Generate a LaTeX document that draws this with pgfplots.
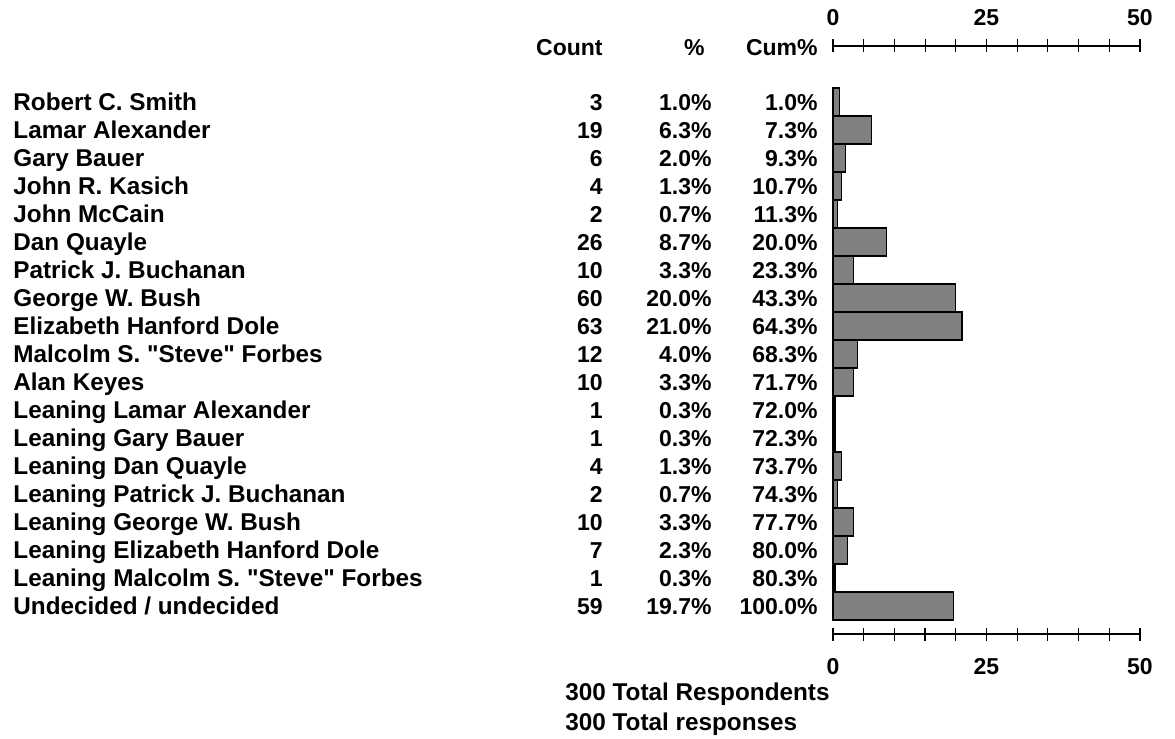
\documentclass[border=0pt]{standalone}
\usepackage{fontspec}
\setmainfont{Liberation Sans}[Ligatures=TeXOff]
\usepackage{pgfplots}
\pgfplotsset{compat=1.18}
\newcommand{\F}{\fontsize{11.5}{13}\selectfont\bfseries}
\newcommand{\N}{\fontsize{12.15}{14}\selectfont\bfseries}
\pgfplotstableread{
row pct
1  1.00
2  6.33
3  2.00
4  1.33
5  0.67
6  8.67
7  3.33
8  20.00
9  21.00
10 4.00
11 3.33
12 0.33
13 0.33
14 1.33
15 0.67
16 3.33
17 2.33
18 0.33
19 19.67
}\pcttable
\pgfplotsset{ruler/.style={
  at={(416.5pt,52.5pt)}, anchor=south west,
  scale only axis, width=153.5pt, height=294pt,
  xmin=0, xmax=50, ymin=-1, ymax=20, y dir=reverse,
  axis y line=none, ytick=\empty,
  xtick={0,25,50}, minor xtick={5,10,15,20,30,35,40,45},
  tick align=center, major tick length=6.5pt, minor tick length=6.5pt,
  every tick/.style={black, line width=0.6pt},
  clip=false,
  /pgf/number format/assume math mode=true,
  ticklabel style={font=\F, inner sep=0pt},
},
noarrow/.style={
  axis line style={-, line width=0.6pt, black},
  x axis line style={-},
  every outer x axis line/.style={-, line width=0.6pt, black},
  every inner x axis line/.style={-, line width=0.6pt, black},
}}
\newcommand{\row}[5]{%
  \node[anchor=base west, inner sep=0pt, yshift=-4.3pt, font=\N] at (axis cs:-133.55,#1) {#2};
  \node[anchor=base east, inner sep=0pt, yshift=-4.1pt] at (axis cs:-37.46,#1) {#3};
  \node[anchor=base east, inner sep=0pt, yshift=-4.1pt] at (axis cs:-19.71,#1) {#4\%};
  \node[anchor=base east, inner sep=0pt, yshift=-4.1pt] at (axis cs:-2.44,#1) {#5\%};
}
\begin{document}
\begin{tikzpicture}[font=\F]
\useasboundingbox (0,0) rectangle (587.5pt,369.5pt);
\begin{axis}[ruler, axis x line=top, noarrow,
  xticklabel style={anchor=center, yshift=11pt}]
\end{axis}
\begin{axis}[ruler, axis x line=bottom, noarrow,
  xticklabel style={anchor=center, yshift=-13pt}]
\addplot[xbar, bar width=1, fill=black!50, draw=black, line width=0.6pt] table[x=pct, y=row] {\pcttable};
\node[anchor=base east, inner sep=0pt, yshift=-4.1pt] at (axis cs:-37.46,-0.96) {Count};
\node[anchor=base east, inner sep=0pt, yshift=-4.1pt] at (axis cs:-20.85,-0.96) {\%};
\node[anchor=base east, inner sep=0pt, yshift=-4.1pt] at (axis cs:-2.44,-0.96) {Cum\%};
\row{1}{Robert C. Smith}{3}{1.0}{1.0}
\row{2}{Lamar Alexander}{19}{6.3}{7.3}
\row{3}{Gary Bauer}{6}{2.0}{9.3}
\row{4}{John R. Kasich}{4}{1.3}{10.7}
\row{5}{John McCain}{2}{0.7}{11.3}
\row{6}{Dan Quayle}{26}{8.7}{20.0}
\row{7}{Patrick J. Buchanan}{10}{3.3}{23.3}
\row{8}{George W. Bush}{60}{20.0}{43.3}
\row{9}{Elizabeth Hanford Dole}{63}{21.0}{64.3}
\row{10}{Malcolm S. "Steve" Forbes}{12}{4.0}{68.3}
\row{11}{Alan Keyes}{10}{3.3}{71.7}
\row{12}{Leaning Lamar Alexander}{1}{0.3}{72.0}
\row{13}{Leaning Gary Bauer}{1}{0.3}{72.3}
\row{14}{Leaning Dan Quayle}{4}{1.3}{73.7}
\row{15}{Leaning Patrick J. Buchanan}{2}{0.7}{74.3}
\row{16}{Leaning George W. Bush}{10}{3.3}{77.7}
\row{17}{Leaning Elizabeth Hanford Dole}{7}{2.3}{80.0}
\row{18}{Leaning Malcolm S. "Steve" Forbes}{1}{0.3}{80.3}
\row{19}{Undecided / undecided}{59}{19.7}{100.0}
\node[anchor=base west, inner sep=0pt, yshift=-4.3pt, font=\N] at (axis cs:-43.65,22.07) {300 Total Respondents};
\node[anchor=base west, inner sep=0pt, yshift=-4.3pt, font=\N] at (axis cs:-43.65,23.14) {300 Total responses};
\end{axis}
\end{tikzpicture}
\end{document}
